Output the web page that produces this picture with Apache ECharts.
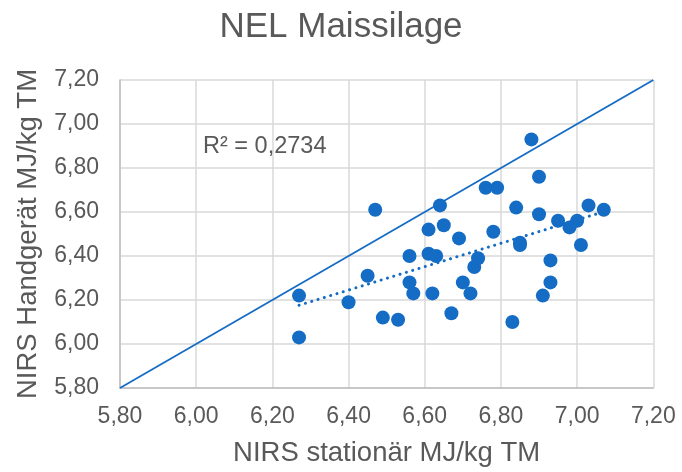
<!DOCTYPE html>
<html>
<head>
<meta charset="utf-8">
<script src="https://cdn.jsdelivr.net/npm/echarts@6/dist/echarts.min.js"></script>
<style>html,body{margin:0;padding:0;background:#fff;}#c{width:682px;height:472px;}</style>
</head>
<body>
<div id="c"></div>
<script>
// NIRS stationär (x) vs NIRS Handgerät (y), MJ/kg TM
var stationaer = [6.47,6.45,6.27,6.40,6.49,6.53,6.27,6.88,6.90,6.76,6.79,6.64,6.84,7.03,7.07,6.90,6.95,7.00,6.98,6.61,6.65,6.78,6.69,6.85,6.85,7.01,6.56,6.61,6.63,6.74,6.73,6.93,6.56,6.70,6.93,6.57,6.62,6.72,6.91,6.67,6.83];
var handgeraet = [6.61,6.31,6.22,6.19,6.12,6.11,6.03,6.93,6.76,6.71,6.71,6.63,6.62,6.63,6.61,6.59,6.56,6.56,6.53,6.52,6.54,6.51,6.48,6.46,6.45,6.45,6.40,6.41,6.40,6.39,6.35,6.38,6.28,6.28,6.28,6.23,6.23,6.23,6.22,6.14,6.10];
var axisTicks = [5.80,6.00,6.20,6.40,6.60,6.80,7.00,7.20];
var identityLine = [[5.80,5.80],[7.20,7.20]];
var r2Text = 'R² = 0,2734';

var points = stationaer.map(function(x,i){return [x, handgeraet[i]];});
// linear trend (least squares) from the data
var n = points.length, sx=0, sy=0, sxx=0, sxy=0;
points.forEach(function(p){sx+=p[0];sy+=p[1];sxx+=p[0]*p[0];sxy+=p[0]*p[1];});
var slope = (n*sxy - sx*sy)/(n*sxx - sx*sx);
var icpt = (sy - slope*sx)/n;
var xmin = Math.min.apply(null, stationaer), xmax = Math.max.apply(null, stationaer);
var trend = [[xmin, icpt+slope*xmin],[xmax, icpt+slope*xmax]];

function fmt(v){
  var best = axisTicks.reduce(function(a,b){return Math.abs(b-v)<Math.abs(a-v)?b:a;});
  return best.toFixed(2).replace('.', ',');
}
var FONT = 'Liberation Sans, Arial, sans-serif';
var blue = '#156CC4';
var chart = echarts.init(document.getElementById('c'), null, {renderer:'canvas'});
chart.setOption({
  animation:false,
  backgroundColor:'#fff',
  title:{text:'NEL Maissilage', left:'center', top:5,
    textStyle:{fontFamily:FONT, fontSize:35, fontWeight:'normal', color:'#595959'}},
  grid:{left:120, right:28.7, top:80, bottom:80.3},
  xAxis:{type:'value', min:5.8, max:7.2, interval:0.2,
    name:'NIRS stationär MJ/kg TM', nameLocation:'middle', nameGap:51,
    nameTextStyle:{fontFamily:FONT, fontSize:27.5, color:'#595959'},
    axisLine:{show:true, lineStyle:{color:'#bfbfbf', width:1.5}},
    axisTick:{show:false},
    axisLabel:{formatter:fmt, fontFamily:FONT, fontSize:23, color:'#595959', margin:17},
    splitLine:{show:true, lineStyle:{color:'#d9d9d9', width:1.5}}},
  yAxis:{type:'value', min:5.8, max:7.2, interval:0.2,
    name:'NIRS Handgerät MJ/kg TM', nameLocation:'middle', nameGap:78, nameRotate:90,
    nameTextStyle:{fontFamily:FONT, fontSize:27.5, color:'#595959'},
    axisLine:{show:true, lineStyle:{color:'#bfbfbf', width:1.5}},
    axisTick:{show:false},
    axisLabel:{formatter:fmt, fontFamily:FONT, fontSize:23, color:'#595959', margin:21},
    splitLine:{show:true, lineStyle:{color:'#d9d9d9', width:1.5}}},
  graphic:[{type:'text', left:203, top:135, z:10,
    style:{text:r2Text, font:'23.5px ' + FONT, fill:'#595959'}}],
  series:[
    {type:'line', data:identityLine, symbol:'none', lineStyle:{color:blue, width:1.8}, z:2},
    {type:'scatter', data:points, symbol:'circle', symbolSize:14, itemStyle:{color:blue, opacity:1}, z:3},
    {type:'line', data:trend, symbol:'none', lineStyle:{color:blue, width:3, type:[0.1,6.5], cap:'round'}, z:4}
  ]
});
</script>
</body>
</html>
